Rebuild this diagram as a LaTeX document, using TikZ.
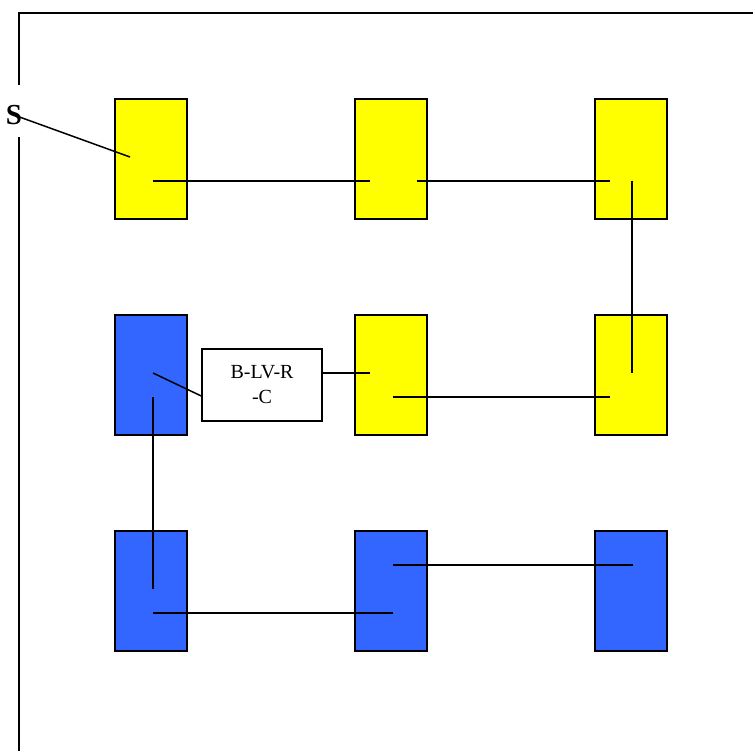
\documentclass[tikz,border=0pt]{standalone}
\usepackage{fontspec}
\setmainfont{Liberation Serif}
\usepackage{tikz}
\usetikzlibrary{calc, shapes}

\definecolor{cellyellow}{HTML}{FFFF00}
\definecolor{cellblue}{HTML}{3366FF}

\tikzset{
    cell/.style={rectangle, draw, line width=1.5pt, minimum width=72pt, minimum height=120pt, inner sep=0pt},
    link/.style={line width=1.5pt},
}

\begin{document}
\begin{tikzpicture}[x=1pt, y=-1pt]
    \useasboundingbox (0,0) rectangle (753,751);
    % frame
    \draw [line width=1.5pt] (19,85) -- (19,13) -- (753,13);
    \draw [line width=1.5pt] (19,137) -- (19,751);

    % cells
    \node (A) [cell, fill=cellyellow] at (151,159) {};
    \node (B) [cell, fill=cellyellow] at (391,159) {};
    \node (C) [cell, fill=cellyellow] at (631,159) {};
    \node (D) [cell, fill=cellblue] at (151,375) {};
    \node (E) [cell, fill=cellyellow] at (391,375) {};
    \node (F) [cell, fill=cellyellow] at (631,375) {};
    \node (G) [cell, fill=cellblue] at (151,591) {};
    \node (H) [cell, fill=cellblue] at (391,591) {};
    \node (I) [cell, fill=cellblue] at (631,591) {};

    \node (s) [font=\fontsize{29}{29}\selectfont\bfseries] at (14,115) {S};
    \node (lab) [rectangle, draw, line width=1.5pt, minimum width=120pt, minimum height=72pt, align=center, inner sep=0pt,
        font=\fontsize{20}{25}\selectfont] at (262,385) {B-LV-R\\-C};

    % wiring ends
    \coordinate (a1) at (130,157);
    \coordinate (a2) at (153,181);
    \coordinate (b1) at (370,181);
    \coordinate (b2) at (417,181);
    \coordinate (c1) at (610,181);
    \coordinate (c2) at (632,181);
    \coordinate (f1) at (632,373);
    \coordinate (f2) at (610,397);
    \coordinate (e1) at (393,397);
    \coordinate (e2) at (370,373);
    \coordinate (d1) at (153,373);
    \coordinate (d2) at (153,397);
    \coordinate (g1) at (153,589);
    \coordinate (g2) at (153,613);
    \coordinate (h1) at (393,613);
    \coordinate (h2) at (393,565);
    \coordinate (i1) at (633,565);

    \draw [link] (s.center) -- (a1);
    \draw [link] (a2) -- (b1);
    \draw [link] (b2) -- (c1);
    \draw [link] (c2) -- (f1);
    \draw [link] (f2) -- (e1);
    \draw [link] (lab.east |- e2) -- (e2);
    \draw [link] (lab.south west |- 0,396) -- (d1);
    \draw [link] (d2) -- (g1);
    \draw [link] (g2) -- (h1);
    \draw [link] (h2) -- (i1);
\end{tikzpicture}
\end{document}
